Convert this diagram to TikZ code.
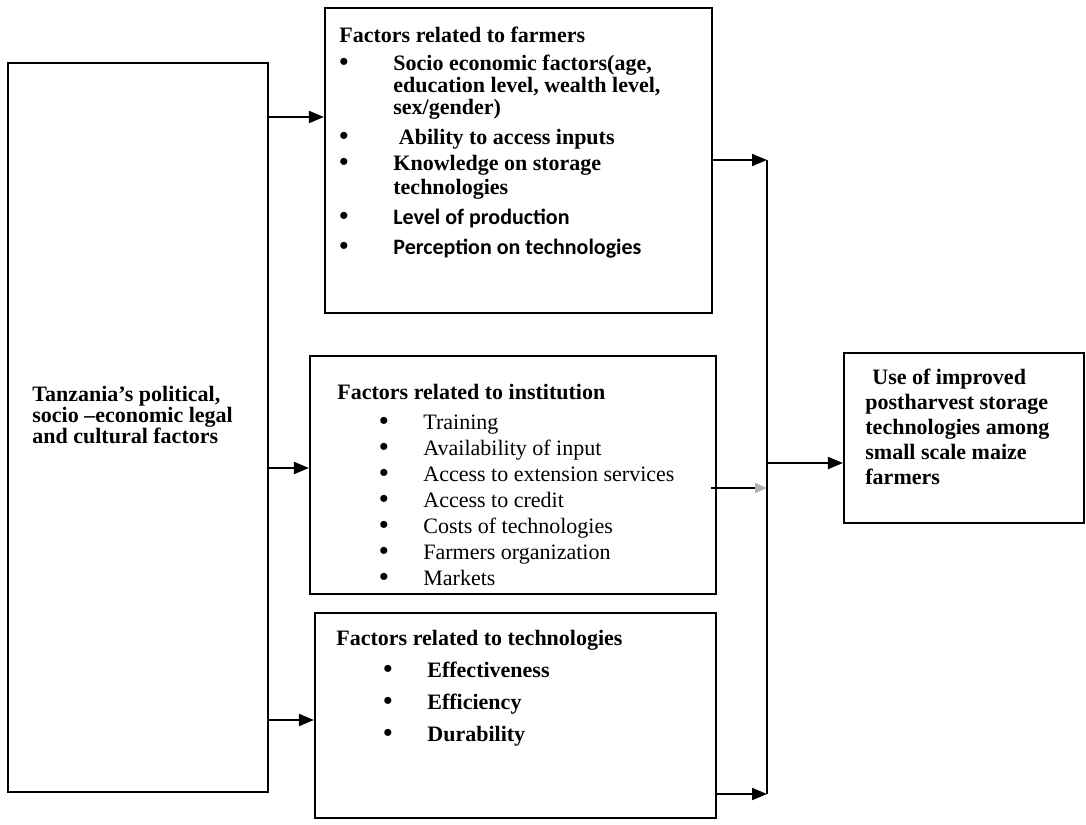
\documentclass[tikz,border=0pt]{standalone}
\usepackage{fontspec}
\setmainfont{Liberation Serif}
\newfontfamily\calibri{Carlito}
\usepackage{tikz}
\usetikzlibrary{arrows.meta,positioning}

\newcommand{\dotmark}{{\fontsize{13}{11}\selectfont\textbullet}}
\newcommand{\farmbullet}[1]{\makebox[27pt][l]{\dotmark}#1}
\newcommand{\instbullet}[1]{\hspace*{21pt}\makebox[22pt][l]{\dotmark}{\mdseries #1}}
\newcommand{\techbullet}[1]{\hspace*{23.5pt}\makebox[22pt][l]{\dotmark}#1}

\begin{document}
\begin{tikzpicture}[
    x=0.5pt, y=-0.5pt,
    box/.style={rectangle, draw, line width=1.1pt, inner sep=0pt},
    list/.style={inner sep=0pt, align=left, anchor=north west, font=\fontsize{11}{11}\selectfont\bfseries},
    arrow/.style={-{Triangle[length=7.5pt, width=6pt]}, line width=1pt},
    faint/.style={-{Triangle[length=6pt, width=5pt, color=gray!60]}}
]
\useasboundingbox (0,0) rectangle (1086,824);

% Boxes
\node[box, minimum width=130pt, minimum height=364.5pt] (context) at (138,427.5) {};
\node[box, minimum width=193.5pt, minimum height=152.5pt] (farmers) at (518.5,160.5) {};
\node[box, minimum width=203pt, minimum height=119pt] (institution) at (513,475) {};
\node[box, minimum width=200.5pt, minimum height=102.5pt] (technology) at (515.5,715.5) {};
\node[box, minimum width=120pt, minimum height=85pt] (outcome) at (964,438) {};

% Box contents
\node[list, font=\fontsize{11}{10.5}\selectfont\bfseries] (contextlist) at (32,386)
    {Tanzania’s political,\\ socio –economic legal\\ and cultural factors};
\node[list, font=\fontsize{11}{12.5}\selectfont\bfseries] (outcomelist) at (865,369)
    {\hspace*{3.5pt}Use of improved\\ postharvest storage\\ technologies among\\ small scale maize\\ farmers};
\node[list] (farmerslist) at (339,27) {%
    Factors related to farmers\\[3pt]
    \farmbullet{Socio economic factors(age,}\\
    \hspace*{27pt}education level, wealth level,\\
    \hspace*{27pt}sex/gender)\\[4pt]
    \farmbullet{\ Ability to access inputs}\\[2pt]
    \farmbullet{Knowledge on storage}\\[1pt]
    \hspace*{27pt}technologies\\[4pt]
    \farmbullet{\calibri Level of production}\\[4pt]
    \farmbullet{\calibri Perception on technologies}};
\node[list] (institutionlist) at (337,384) {%
    Factors related to institution\\[4pt]
    \instbullet{Training}\\[2pt]
    \instbullet{Availability of input}\\[2pt]
    \instbullet{Access to extension services}\\[2pt]
    \instbullet{Access to credit}\\[2pt]
    \instbullet{Costs of technologies}\\[2pt]
    \instbullet{Farmers organization}\\[2pt]
    \instbullet{Markets}};
\node[list] (technologylist) at (336,630) {%
    Factors related to technologies\\[5pt]
    \techbullet{Effectiveness}\\[5pt]
    \techbullet{Efficiency}\\[5pt]
    \techbullet{Durability}};

% Arrow levels
\coordinate (yfarm) at (0,117);
\coordinate (yinst) at (0,468);
\coordinate (ytech) at (0,720);
\coordinate (joinA) at (767,160);
\coordinate (joinB) at (767,488);
\coordinate (joinC) at (767,794);
\coordinate (joinO) at (767,463);

% Arrows
\draw[arrow] (context.east |- yfarm) -- (farmers.west |- yfarm);
\draw[arrow] (context.east |- yinst) -- (institution.west |- yinst);
\draw[arrow] (context.east |- ytech) -- (technology.west |- ytech);

\draw[arrow] (farmers.east |- joinA) -- (joinA);
\draw[arrow, faint] ([xshift=-3pt]institution.east |- joinB) -- (joinB);
\draw[arrow] (technology.east |- joinC) -- (joinC);
\draw[line width=1pt] (joinA) -- (joinC);
\draw[arrow] (joinO) -- (outcome.west |- joinO);

\end{tikzpicture}
\end{document}
